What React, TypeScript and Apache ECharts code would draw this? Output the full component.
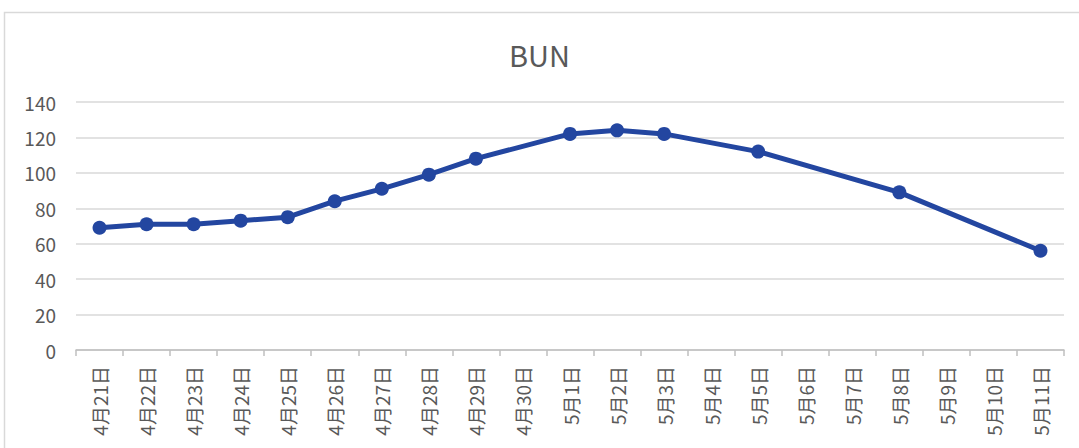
import React, { useEffect, useRef } from "react";
import * as echarts from "echarts";

const categories = [
  "4月21日", "4月22日", "4月23日", "4月24日", "4月25日", "4月26日", "4月27日",
  "4月28日", "4月29日", "4月30日", "5月1日", "5月2日", "5月3日", "5月4日",
  "5月5日", "5月6日", "5月7日", "5月8日", "5月9日", "5月10日", "5月11日",
];
const bunValues: (number | null)[] = [
  69, 71, 71, 73, 75, 84, 91, 99, 108, null, 122, 124, 122, null,
  112, null, null, 89, null, null, 56,
];
const yTicks = { min: 0, max: 140, interval: 20 };
const titleText = "BUN";

const FONT = "'Noto Sans CJK SC', 'Noto Sans', sans-serif";

export default function App() {
  const ref = useRef<HTMLDivElement>(null);
  useEffect(() => {
    if (!ref.current) return;
    const chart = echarts.init(ref.current, undefined, { renderer: "svg" });
    chart.setOption({
      animation: false,
      backgroundColor: "#ffffff",
      textStyle: { fontFamily: FONT },
      title: {
        text: titleText,
        left: "center",
        top: 34,
        textStyle: { fontFamily: FONT, fontSize: 29, fontWeight: "normal", color: "#595959" },
      },
      graphic: [
        {
          type: "rect",
          shape: { x: 4.5, y: 12.5, width: 1090, height: 460 },
          style: { fill: "none", stroke: "#D9D9D9", lineWidth: 1.5 },
          silent: true,
        },
      ],
      grid: { left: 76, right: 15, top: 102, bottom: 98 },
      xAxis: {
        type: "category",
        data: categories,
        boundaryGap: true,
        axisLine: { show: true, lineStyle: { color: "#BFBFBF", width: 1.5 } },
        axisTick: { show: true, alignWithLabel: false, length: 6, lineStyle: { color: "#BFBFBF", width: 1.5 } },
        axisLabel: {
          interval: 0,
          rotate: 90,
          margin: 16,
          fontSize: 19,
          color: "#595959",
          fontFamily: FONT,
        },
      },
      yAxis: {
        type: "value",
        min: yTicks.min,
        max: yTicks.max,
        interval: yTicks.interval,
        axisLine: { show: false },
        axisTick: { show: false },
        splitLine: { lineStyle: { color: "#D9D9D9", width: 1.5 } },
        axisLabel: { fontSize: 19, color: "#595959", margin: 20, fontFamily: FONT },
      },
      series: [
        {
          type: "line",
          data: bunValues,
          connectNulls: true,
          symbol: "circle",
          symbolSize: 14,
          lineStyle: { color: "#2346A0", width: 5 },
          itemStyle: { color: "#2346A0" },
        },
      ],
    });
    return () => chart.dispose();
  }, []);
  return (
    <div
      ref={ref}
      style={{ position: "fixed", left: 0, top: 0, width: 1079, height: 448 }}
    />
  );
}
